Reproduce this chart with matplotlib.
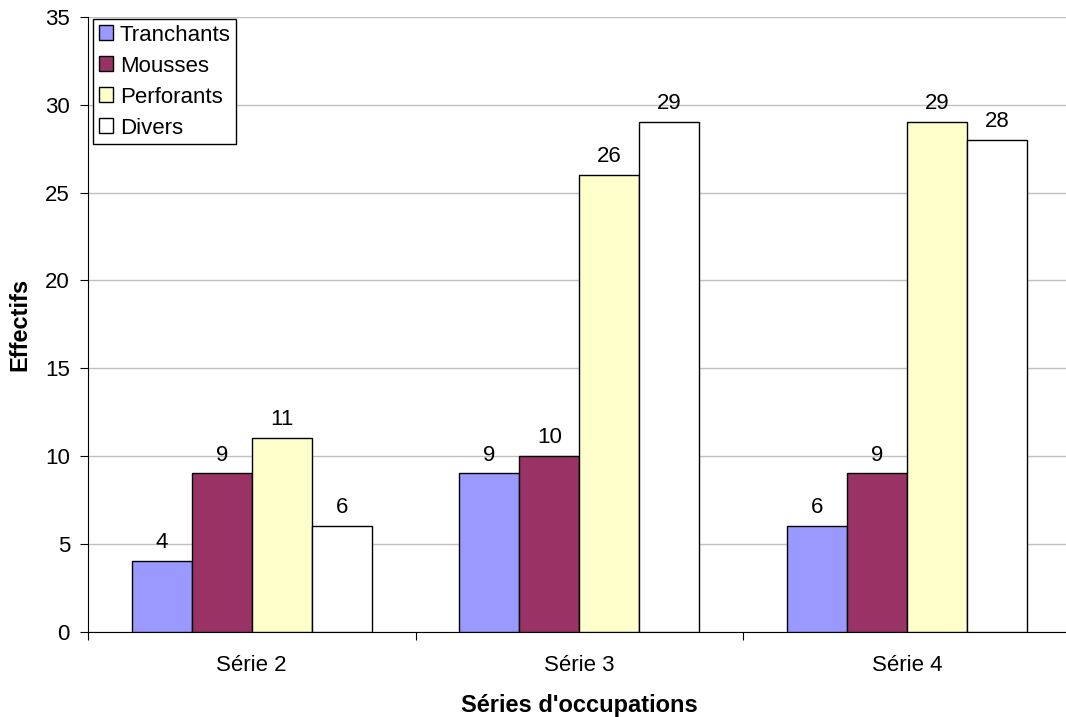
import matplotlib
matplotlib.use("Agg")
import matplotlib.pyplot as plt
import numpy as np

categories = ["Série 2", "Série 3", "Série 4"]
series_names = ["Tranchants", "Mousses", "Perforants", "Divers"]
tranchants = [4, 9, 6]
mousses = [9, 10, 9]
perforants = [11, 26, 29]
divers = [6, 29, 28]
colors = ["#9999FF", "#993366", "#FFFFCC", "#FFFFFF"]

plt.rcParams['font.family'] = ['Liberation Sans', 'DejaVu Sans']

fig = plt.figure(figsize=(10.66, 7.17), dpi=100)
W, H = 1066, 717
ax = fig.add_axes([88 / W, 1 - 631.5 / H, (1070.5 - 88) / W, (631.5 - 17) / H])

FS = 16
x = np.arange(len(categories))
bw = 60 / 327.5
data = [tranchants, mousses, perforants, divers]
for i, (name, vals, c) in enumerate(zip(series_names, data, colors)):
    pos = x + (i - 1.5) * bw
    ax.bar(pos, vals, width=bw, color=c, edgecolor="black", linewidth=1.0,
           label=name, zorder=3)
    for p, v in zip(pos, vals):
        ax.text(p, v + 0.45, str(v), ha="center", va="bottom", fontsize=FS, zorder=4)

ax.set_xlim(-0.5, len(categories) - 0.5)
ax.set_ylim(0, 35)
ax.set_yticks(np.arange(0, 36, 5))
ax.yaxis.grid(True, color="#C0C0C0", linewidth=1.0, zorder=0)
ax.set_axisbelow(True)
ax.set_xticks(np.arange(-0.5, len(categories) - 0.5 + 0.01, 1))
ax.set_xticklabels([])
ax.set_xticks(x, minor=True)
ax.set_xticklabels(categories, minor=True, fontsize=FS)
ax.tick_params(axis="x", which="minor", length=0, pad=17)
ax.tick_params(axis="x", which="major", length=6, direction="out", color="black")
ax.tick_params(axis="y", length=6, direction="out", labelsize=FS, pad=7)

for s in ["top", "right"]:
    ax.spines[s].set_visible(False)
ax.spines["left"].set_color("black")
ax.spines["bottom"].set_color("black")

ax.set_ylabel("Effectifs", fontsize=17, fontweight="bold", labelpad=10)
ax.set_xlabel("Séries d'occupations", fontsize=17, fontweight="bold", labelpad=13)

leg = ax.legend(loc="upper left", bbox_to_anchor=(5 / 982.5, 1 - 2 / 614.5), fontsize=FS,
                frameon=True, fancybox=False, edgecolor="black", framealpha=1,
                handlelength=0.65, handleheight=0.65, handletextpad=0.3,
                borderpad=0.25, labelspacing=0.45, borderaxespad=0)
leg.get_frame().set_linewidth(1.0)

fig.savefig("out.png", dpi=100)
